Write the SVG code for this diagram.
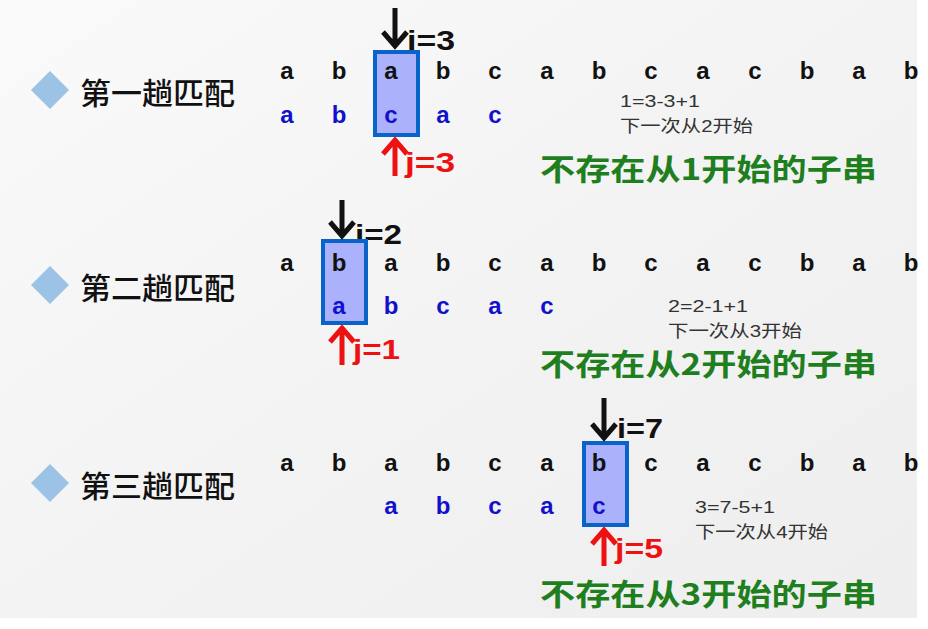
<svg xmlns="http://www.w3.org/2000/svg" width="928" height="629" viewBox="0 0 928 629">
<defs>
<linearGradient id="bg" x1="0" y1="0" x2="1" y2="1">
<stop offset="0" stop-color="#fafafa"/>
<stop offset="0.5" stop-color="#f3f3f3"/>
<stop offset="1" stop-color="#eeeeee"/>
</linearGradient>
<style>
.lbl{font-family:"Noto Sans CJK SC","Noto Sans",sans-serif;font-weight:500;font-size:30px;fill:#111;}
.m{font-family:"Liberation Sans",Arial,sans-serif;font-weight:bold;font-size:24px;fill:#111;text-anchor:middle;}
.p{font-family:"Liberation Sans",Arial,sans-serif;font-weight:bold;font-size:24px;fill:#1111cc;text-anchor:middle;}
.box{fill:#abb1fa;stroke:#0a63c9;stroke-width:4;}
.dia{fill:#9cc2e5;}
.ann{font-family:"Liberation Sans","Noto Sans CJK SC",sans-serif;font-size:17px;fill:#333;}
.g{font-family:"Noto Sans CJK SC","Liberation Sans",sans-serif;font-weight:bold;font-size:30px;fill:#1f7f1f;}
.ib{font-family:"Liberation Sans",Arial,sans-serif;font-weight:bold;font-size:27px;fill:#111;}
.jr{font-family:"Liberation Sans",Arial,sans-serif;font-weight:bold;font-size:27px;fill:#ee1111;}
.ak{fill:none;stroke:#111;stroke-width:5;}
.ar{fill:none;stroke:#ee1111;stroke-width:5;}
</style>
</defs>
<rect x="0" y="0" width="928" height="629" fill="#ffffff"/>
<rect x="0" y="0" width="917" height="618" fill="url(#bg)"/>

<!-- Row 1 -->
<g id="row1">
<polygon class="dia" points="50,71 69,90 50,109 31,90"/>
<text class="lbl" x="80" y="104" textLength="155" lengthAdjust="spacingAndGlyphs">第一趟匹配</text>
<text class="ib" x="407" y="50" textLength="48" lengthAdjust="spacingAndGlyphs">i=3</text>
<rect class="box" x="375" y="52" width="43" height="83"/>
<g>
<text class="m" x="287" y="79">a</text><text class="m" x="339" y="79">b</text><text class="m" x="391" y="79">a</text><text class="m" x="443" y="79">b</text><text class="m" x="495" y="79">c</text><text class="m" x="547" y="79">a</text><text class="m" x="599" y="79">b</text><text class="m" x="651" y="79">c</text><text class="m" x="703" y="79">a</text><text class="m" x="755" y="79">c</text><text class="m" x="807" y="79">b</text><text class="m" x="859" y="79">a</text><text class="m" x="911" y="79">b</text>
</g>
<g>
<text class="p" x="287" y="123">a</text><text class="p" x="339" y="123">b</text><text class="p" x="391" y="123">c</text><text class="p" x="443" y="123">a</text><text class="p" x="495" y="123">c</text>
</g>
<text class="jr" x="405" y="172" textLength="50" lengthAdjust="spacingAndGlyphs">j=3</text>
<text class="ann" x="620" y="107" textLength="80" lengthAdjust="spacingAndGlyphs">1=3-3+1</text>
<text class="ann" x="620" y="132" textLength="133" lengthAdjust="spacingAndGlyphs">下一次从2开始</text>
<text class="g" x="540" y="180" textLength="337" lengthAdjust="spacingAndGlyphs">不存在从1开始的子串</text>
</g>

<!-- Row 2 -->
<g id="row2">
<polygon class="dia" points="50,266 69,285 50,304 31,285"/>
<text class="lbl" x="80" y="299" textLength="155" lengthAdjust="spacingAndGlyphs">第二趟匹配</text>
<text class="ib" x="355" y="244" textLength="47" lengthAdjust="spacingAndGlyphs">i=2</text>
<rect class="box" x="323" y="241" width="43" height="82"/>
<g>
<text class="m" x="287" y="271">a</text><text class="m" x="339" y="271">b</text><text class="m" x="391" y="271">a</text><text class="m" x="443" y="271">b</text><text class="m" x="495" y="271">c</text><text class="m" x="547" y="271">a</text><text class="m" x="599" y="271">b</text><text class="m" x="651" y="271">c</text><text class="m" x="703" y="271">a</text><text class="m" x="755" y="271">c</text><text class="m" x="807" y="271">b</text><text class="m" x="859" y="271">a</text><text class="m" x="911" y="271">b</text>
</g>
<g>
<text class="p" x="339" y="314">a</text><text class="p" x="391" y="314">b</text><text class="p" x="443" y="314">c</text><text class="p" x="495" y="314">a</text><text class="p" x="547" y="314">c</text>
</g>
<text class="jr" x="353" y="359" textLength="47" lengthAdjust="spacingAndGlyphs">j=1</text>
<text class="ann" x="668" y="312" textLength="80" lengthAdjust="spacingAndGlyphs">2=2-1+1</text>
<text class="ann" x="668" y="337" textLength="134" lengthAdjust="spacingAndGlyphs">下一次从3开始</text>
<text class="g" x="540" y="375" textLength="337" lengthAdjust="spacingAndGlyphs">不存在从2开始的子串</text>
</g>

<!-- Row 3 -->
<g id="row3">
<polygon class="dia" points="50,464 69,483 50,502 31,483"/>
<text class="lbl" x="80" y="497" textLength="155" lengthAdjust="spacingAndGlyphs">第三趟匹配</text>
<text class="ib" x="617" y="438" textLength="46" lengthAdjust="spacingAndGlyphs">i=7</text>
<rect class="box" x="584" y="443" width="43" height="82"/>
<g>
<text class="m" x="287" y="471">a</text><text class="m" x="339" y="471">b</text><text class="m" x="391" y="471">a</text><text class="m" x="443" y="471">b</text><text class="m" x="495" y="471">c</text><text class="m" x="547" y="471">a</text><text class="m" x="599" y="471">b</text><text class="m" x="651" y="471">c</text><text class="m" x="703" y="471">a</text><text class="m" x="755" y="471">c</text><text class="m" x="807" y="471">b</text><text class="m" x="859" y="471">a</text><text class="m" x="911" y="471">b</text>
</g>
<g>
<text class="p" x="391" y="514">a</text><text class="p" x="443" y="514">b</text><text class="p" x="495" y="514">c</text><text class="p" x="547" y="514">a</text><text class="p" x="599" y="514">c</text>
</g>
<text class="jr" x="615" y="558" textLength="48" lengthAdjust="spacingAndGlyphs">j=5</text>
<text class="ann" x="695" y="513" textLength="80" lengthAdjust="spacingAndGlyphs">3=7-5+1</text>
<text class="ann" x="695" y="538" textLength="133" lengthAdjust="spacingAndGlyphs">下一次从4开始</text>
<text class="g" x="540" y="605" textLength="337" lengthAdjust="spacingAndGlyphs">不存在从3开始的子串</text>
</g>

<!-- Connectors (pointer arrows) -->
<g id="connectors">
<path class="ak" d="M395,8 V45 M383,32 L395,46 L407,32"/>
<path class="ar" d="M395,176 V141 M383,154 L395,140 L407,154"/>
<path class="ak" d="M342,200 V235 M330,222 L342,236 L354,222"/>
<path class="ar" d="M342,365 V329 M330,342 L342,328 L354,342"/>
<path class="ak" d="M604,398 V437 M592,424 L604,438 L616,424"/>
<path class="ar" d="M604,566 V531 M592,544 L604,530 L616,544"/>
</g>
</svg>
